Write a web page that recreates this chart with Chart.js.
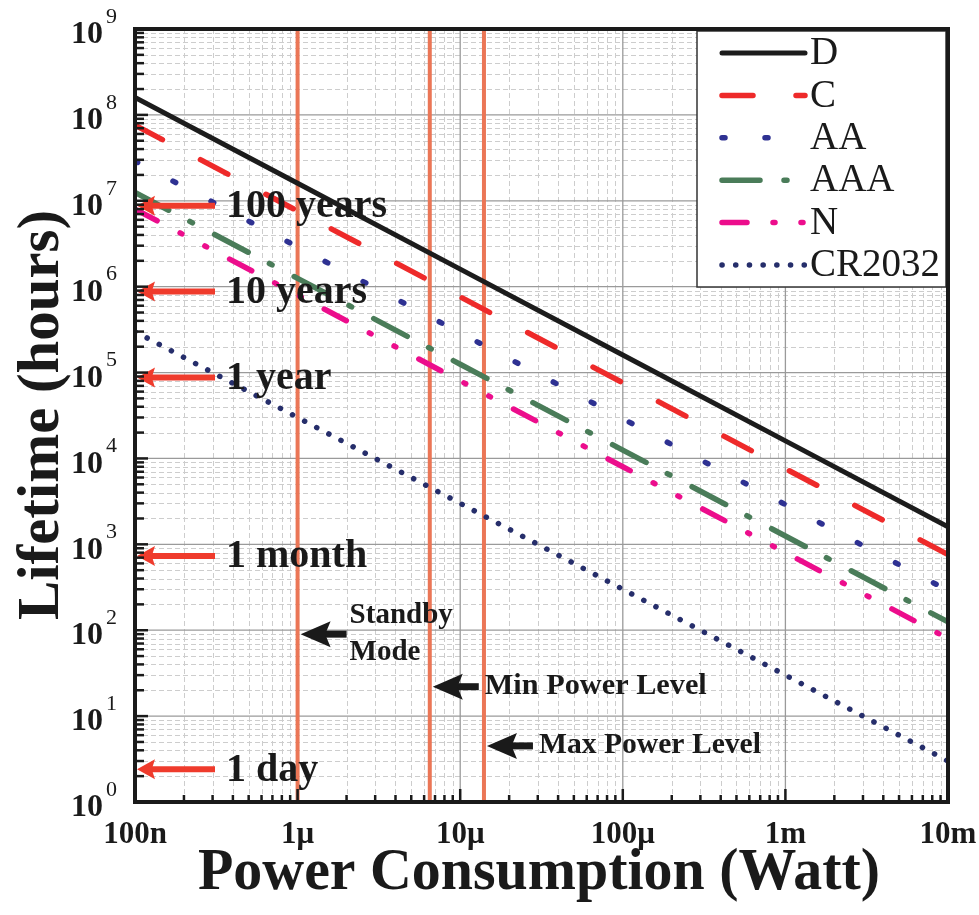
<!DOCTYPE html>
<html>
<head>
<meta charset="utf-8">
<script src="https://cdn.jsdelivr.net/npm/chart.js@4.4.1/dist/chart.umd.min.js"></script>
<style>
  html, body { margin: 0; padding: 0; background: #fff; }
  #wrap { width: 979px; height: 915px; }
</style>
</head>
<body>
<div id="wrap"><canvas id="lifeChart"></canvas></div>
<script>
// values (hours of lifetime at each power level)
var powerW   = [1e-7, 1e-6, 1e-5, 1e-4, 1e-3, 1e-2];
var lifeD    = [1.6e8, 1.6e7, 1.6e6, 1.6e5, 1.6e4, 1.6e3];
var lifeC    = [7.6e7, 7.6e6, 7.6e5, 7.6e4, 7.6e3, 7.6e2];
var lifeAA   = [2.9e7, 2.9e6, 2.9e5, 2.9e4, 2.9e3, 2.9e2];
var lifeAAA  = [1.25e7, 1.25e6, 1.25e5, 1.25e4, 1.25e3, 1.25e2];
var lifeN    = [8e6, 8e5, 8e4, 8e3, 8e2, 80];
var lifeCR   = [3e5, 3e4, 3e3, 3e2, 30, 3];

var markerPowers = [1e-6, 6.5e-6, 1.4e-5];
var markerLabels = [['Standby', 'Mode'], ['Min Power Level'], ['Max Power Level']];
var markerArrowY = [90, 22, 4.5];

var periodLabels = ['100 years', '10 years', '1 year', '1 month', '1 day'];
var periodHours  = [8.76e6, 8.76e5, 8.76e4, 730, 2.4];

var xTickExp    = [-7, -6, -5, -4, -3, -2];
var xTickLabels = ['100n', '1\u03bc', '10\u03bc', '100\u03bc', '1m', '10m'];
var yTickExp    = [0, 1, 2, 3, 4, 5, 6, 7, 8, 9];

var SERIF = '"Liberation Serif", "Times New Roman", serif';

function pts(ys) { return powerW.map(function(p, i) { return { x: p, y: ys[i] }; }); }
function series(label, ys, color, dash) {
    return { label: label, data: pts(ys), borderColor: color, backgroundColor: color,
             borderWidth: 5.5, borderDash: dash, borderCapStyle: 'round',
             pointRadius: 0, showLine: true, order: 1 };
}

var datasets = [
    series('D', lifeD, '#1c1c1c', []),
    series('C', lifeC, '#ee2a2a', [31, 43]),
    series('AA', lifeAA, '#2e3192', [3, 40]),
    series('AAA', lifeAAA, '#4a7c59', [38, 24, 3, 25]),
    series('N', lifeN, '#ec0d8c', [25, 26, 2, 26, 2, 26]),
    series('CR2032', lifeCR, '#262e6b', [0.1, 13.6])
];
var nSeries = datasets.length;
datasets[0].borderWidth = 5;
markerPowers.forEach(function(p) {
    datasets.push({ label: '', data: [{ x: p, y: 1 }, { x: p, y: 1e9 }], borderColor: '#eb7656',
                    borderWidth: 4, pointRadius: 0, showLine: true, order: 20 });
});

function seg(ctx, x1, y1, x2, y2) { ctx.beginPath(); ctx.moveTo(x1, y1); ctx.lineTo(x2, y2); ctx.stroke(); }

function arrowLeft(ctx, tipX, tailX, y, color, head, half, w) {
    ctx.strokeStyle = color; ctx.fillStyle = color; ctx.lineWidth = w; ctx.setLineDash([]);
    ctx.lineCap = 'butt';
    seg(ctx, tipX + head * 0.7, y, tailX, y);
    ctx.beginPath();
    ctx.moveTo(tipX, y);
    ctx.lineTo(tipX + head, y - half);
    ctx.lineTo(tipX + head * 0.82, y);
    ctx.lineTo(tipX + head, y + half);
    ctx.closePath();
    ctx.fill();
}

function fitText(ctx, txt, x, y, targetW) {
    var w = ctx.measureText(txt).width;
    var s = targetW ? targetW / w : 1;
    ctx.save();
    ctx.translate(x, y);
    ctx.scale(s, 1);
    ctx.fillText(txt, 0, 0);
    ctx.restore();
}

var paperPlugin = {
    id: 'paper',
    beforeDatasetsDraw: function(chart) {
        var ctx = chart.ctx, a = chart.chartArea, xs = chart.scales.x, ys = chart.scales.y;
        ctx.save();
        // minor grid, dashed
        ctx.strokeStyle = '#cdcdcd'; ctx.lineWidth = 1; ctx.setLineDash([5, 3]);
        xTickExp.slice(0, -1).forEach(function(e) {
            for (var m = 2; m <= 9; m++) {
                var px = Math.round(xs.getPixelForValue(m * Math.pow(10, e))) + 0.5;
                seg(ctx, px, a.top, px, a.bottom);
            }
        });
        yTickExp.slice(0, -1).forEach(function(e) {
            for (var m = 2; m <= 9; m++) {
                var py = Math.round(ys.getPixelForValue(m * Math.pow(10, e))) + 0.5;
                seg(ctx, a.left, py, a.right, py);
            }
        });
        // major grid
        ctx.setLineDash([]); ctx.strokeStyle = '#9a9a9a'; ctx.lineWidth = 1.3;
        xTickExp.forEach(function(e) {
            var px = xs.getPixelForValue(Math.pow(10, e));
            seg(ctx, px, a.top, px, a.bottom);
        });
        yTickExp.forEach(function(e) {
            var py = ys.getPixelForValue(Math.pow(10, e));
            seg(ctx, a.left, py, a.right, py);
        });
        ctx.restore();
    },
    afterDatasetsDraw: function(chart) {
        var ctx = chart.ctx, a = chart.chartArea, xs = chart.scales.x, ys = chart.scales.y;
        ctx.save();

        // lifetime reference arrows
        ctx.textBaseline = 'middle'; ctx.textAlign = 'left';
        periodHours.forEach(function(h, i) {
            var py = ys.getPixelForValue(h);
            arrowLeft(ctx, a.left + 2, 215, py, '#ef3b2c', 18, 10, 6);
            ctx.fillStyle = '#1a1a1a';
            ctx.font = 'bold 40px ' + SERIF;
            ctx.fillText(periodLabels[i], 226, py + 1);
        });

        // power level markers
        markerPowers.forEach(function(p, i) {
            var tip = xs.getPixelForValue(p) + 3;
            var py = ys.getPixelForValue(markerArrowY[i]);
            arrowLeft(ctx, tip, tip + 46, py, '#1a1a1a', 30, 13, 7);
            ctx.fillStyle = '#1a1a1a';
            ctx.font = 'bold 29px ' + SERIF;
            var lines = markerLabels[i];
            if (lines.length === 2) {
                ctx.fillText(lines[0], tip + 49, py - 19);
                ctx.fillText(lines[1], tip + 49, py + 18);
            } else {
                fitText(ctx, lines[0], tip + 52, py, 222);
            }
        });

        // legend
        var lx = 697, ly = 31, lw = 249, lh = 256;
        ctx.fillStyle = '#fff';
        ctx.fillRect(lx, ly, lw, lh);
        ctx.strokeStyle = '#333'; ctx.lineWidth = 1.5; ctx.setLineDash([]);
        ctx.strokeRect(lx, ly, lw, lh);
        for (var i = 0; i < nSeries; i++) {
            var ds = chart.data.datasets[i];
            var ry = ly + 22 + i * 42.4;
            ctx.strokeStyle = ds.borderColor; ctx.lineWidth = ds.borderWidth;
            ctx.lineCap = 'round'; ctx.setLineDash(ds.borderDash);
            seg(ctx, 722, ry, 805, ry);
            ctx.setLineDash([]);
            ctx.fillStyle = '#1a1a1a';
            ctx.font = '39px ' + SERIF;
            ctx.fillText(ds.label, 810, ry + 1);
        }

        // frame
        ctx.lineCap = 'butt'; ctx.setLineDash([]);
        ctx.strokeStyle = '#1a1a1a'; ctx.lineWidth = 4;
        ctx.strokeRect(a.left, a.top, a.right - a.left, a.bottom - a.top);

        // inner ticks
        ctx.lineWidth = 2.5;
        yTickExp.forEach(function(e) {
            var py = ys.getPixelForValue(Math.pow(10, e));
            seg(ctx, a.left, py, a.left + 13, py);
            if (e === 9) return;
            for (var m = 2; m <= 9; m++) {
                var q = ys.getPixelForValue(m * Math.pow(10, e));
                seg(ctx, a.left, q, a.left + 9, q);
            }
        });
        xTickExp.forEach(function(e) {
            var px = xs.getPixelForValue(Math.pow(10, e));
            seg(ctx, px, a.bottom, px, a.bottom - 13);
            if (e === -2) return;
            for (var m = 2; m <= 9; m++) {
                var q = xs.getPixelForValue(m * Math.pow(10, e));
                seg(ctx, q, a.bottom, q, a.bottom - 7);
            }
        });

        // tick labels
        ctx.fillStyle = '#1a1a1a';
        yTickExp.forEach(function(e) {
            var py = ys.getPixelForValue(Math.pow(10, e));
            ctx.textAlign = 'right'; ctx.font = 'bold 32px ' + SERIF;
            ctx.fillText('10', 103, py + 6);
            ctx.textAlign = 'left'; ctx.font = '22px ' + SERIF;
            ctx.fillText(String(e), 106, py - 12);
        });
        ctx.textAlign = 'center'; ctx.font = 'bold 31px ' + SERIF;
        xTickExp.forEach(function(e, i) {
            var px = xs.getPixelForValue(Math.pow(10, e));
            ctx.fillText(xTickLabels[i], px, 835);
        });

        // axis titles
        ctx.font = 'bold 60px ' + SERIF;
        ctx.textAlign = 'left';
        fitText(ctx, 'Power Consumption (Watt)', 198, 873, 682);
        ctx.save();
        ctx.translate(42, 620);
        ctx.rotate(-Math.PI / 2);
        fitText(ctx, 'Lifetime (hours)', 0, 0, 410);
        ctx.restore();

        ctx.restore();
    }
};

new Chart(document.getElementById('lifeChart'), {
    type: 'scatter',
    data: { datasets: datasets },
    options: {
        responsive: true,
        maintainAspectRatio: false,
        animation: false,
        events: [],
        layout: { padding: { left: 135, right: 31, top: 29, bottom: 113 } },
        plugins: { legend: { display: false }, tooltip: { enabled: false } },
        scales: {
            x: { type: 'logarithmic', min: 1e-7, max: 1e-2, display: false },
            y: { type: 'logarithmic', min: 1, max: 1e9, display: false }
        }
    },
    plugins: [paperPlugin]
});
</script>
</body>
</html>
